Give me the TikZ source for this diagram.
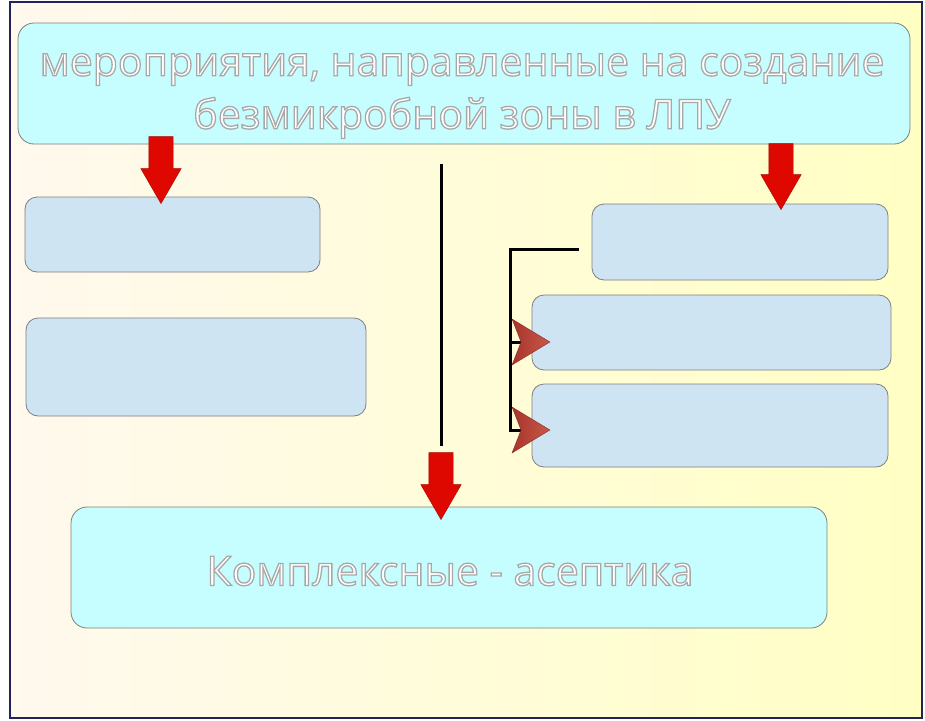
\documentclass[tikz,border=0pt]{standalone}
\usepackage{fontspec}
\setmainfont{Open Sans}
\usepackage{xcolor}
\usepackage{tikz}
\usetikzlibrary{positioning, shapes.arrows, calc}

\definecolor{framecol}{HTML}{23235A}
\definecolor{bgleft}{HTML}{FFF9EE}
\definecolor{bgright}{HTML}{FFFFC4}
\definecolor{boxcyan}{HTML}{C6FEFF}
\definecolor{boxblue}{HTML}{CFE4F3}
\definecolor{boxline}{HTML}{7F7F7F}
\definecolor{arrowred}{HTML}{DF0800}
\definecolor{chevdark}{HTML}{A8352B}
\definecolor{chevlight}{HTML}{C8584A}

% outlined text: white fill, grey stroke
\newcommand{\outlined}[1]{{\color{white}\special{pdf:code q 2 Tr 1.3 w 0.66 0.66 0.66 RG}#1\special{pdf:code Q}}}

\begin{document}
\begin{tikzpicture}[x=1pt, y=-1pt,
  box/.style={draw=boxline, line width=0.8pt, rounded corners=12pt, inner sep=0pt},
  cyanbox/.style={box, fill=boxcyan, rounded corners=16pt},
  bluebox/.style={box, fill=boxblue},
  downarrow/.style={single arrow, shape border rotate=270, fill=arrowred,
    draw=arrowred!75!black, line width=0.4pt, inner sep=12pt,
    minimum height=67pt, anchor=tip,
    single arrow head extend=8pt, single arrow tip angle=60},
  link/.style={line width=3pt, black},
  chev/.style={left color=chevdark, right color=chevlight, draw=chevdark!70!black, line width=0.3pt},
  label/.style={font=\fontsize{41}{53}\selectfont, align=center, inner sep=0pt}]

\useasboundingbox (0,0) rectangle (925,720);
\fill[white] (0,0) rectangle (925,720);
\draw[draw=framecol, line width=1.2pt, left color=bgleft, right color=bgright] (10,2) rectangle (922,718);

%//boxes
\node[cyanbox, minimum width=892pt, minimum height=121pt] (title) at (464,83.5) {};
\node[label] (titletext) at (462,96) {\outlined{мероприятия, направленные на создание}\\ \outlined{безмикробной зоны в ЛПУ}};

\node[bluebox, minimum width=295pt, minimum height=75pt] (lbox1) at (172.5,234.5) {};
\node[bluebox, minimum width=340pt, minimum height=98pt] (lbox2) at (196,367) {};

\node[bluebox, minimum width=296pt, minimum height=76pt] (rbox1) at (740,242) {};
\node[bluebox, minimum width=359pt, minimum height=75pt] (rbox2) at (711.5,332.5) {};
\node[bluebox, minimum width=356pt, minimum height=83pt] (rbox3) at (710,425.5) {};

\node[cyanbox, minimum width=756pt, minimum height=121pt] (bottom) at (449,567.5) {};
\node[label] (bottomtext) at (450,571) {\outlined{Комплексные - асептика}};

%//red arrows
\node[downarrow] (arrL) at (161,204) {};
\node[downarrow, minimum height=66pt] (arrR) at (781,210) {};
\node[downarrow] (arrM) at (441,520) {};

%//connectors
\coordinate (vtop) at (441,164);
\draw[link, shorten >=6pt] (vtop) -- (arrM.tail);

\coordinate (brk) at (579,249);
\coordinate (bend) at (510,249);
\coordinate (chv1) at (521,342);
\coordinate (chv2) at (521,430);
\draw[link] (brk) -- (bend) |- (chv2);
\draw[link] (chv1 -| bend) -- (chv1);

\foreach \c in {chv1, chv2}
\draw[chev] (\c) -- ++(-9,-23) -- ++(38,23) -- ++(-38,23) -- cycle;

\end{tikzpicture}
\end{document}
